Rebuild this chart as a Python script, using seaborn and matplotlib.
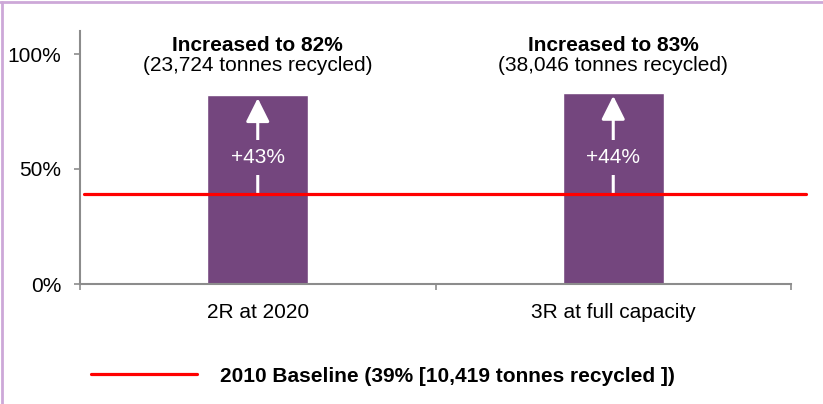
import matplotlib
matplotlib.use("Agg")
import matplotlib.pyplot as plt
from matplotlib.lines import Line2D
import seaborn as sns
import pandas as pd

categories = ["2R at 2020", "3R at full capacity"]
values = [82, 83]
increases = ["+43%", "+44%"]
titles = ["Increased to 82%", "Increased to 83%"]
subtitles = ["(23,724 tonnes recycled)", "(38,046 tonnes recycled)"]
baseline = 39
baseline_label = "2010 Baseline (39% [10,419 tonnes recycled ])"
yticks = [0, 50, 100]
ytick_labels = ["0%", "50%", "100%"]

BAR = "#74467E"
RED = "#FF0000"
GRAY = "#8C8C8C"
FS = 15

sns.set_style("white")
plt.rcParams["font.family"] = ["Liberation Sans", "DejaVu Sans"]
plt.rcParams["text.color"] = "black"
plt.rcParams["xtick.labelcolor"] = "black"
plt.rcParams["ytick.labelcolor"] = "black"

fig = plt.figure(figsize=(8.23, 4.04), dpi=100)
ax = fig.add_axes([80 / 823, 1 - 284 / 404, 711 / 823, (284 - 31) / 404])

df = pd.DataFrame({"cat": categories, "val": values})
sns.barplot(data=df, x="cat", y="val", color=BAR, saturation=1, width=0.283, ax=ax)

ax.set_xlim(-0.5, 1.5)
ax.set_ylim(0, 110)
ax.set_xlabel("")
ax.set_ylabel("")

# baseline
ax.axhline(baseline, xmin=0.0056, xmax=1.021, color=RED, lw=2.3, clip_on=False,
           label=baseline_label, zorder=3)

# arrows and labels
for i, (v, inc, t, s) in enumerate(zip(values, increases, titles, subtitles)):
    ax.annotate("", xy=(i, v - 1.2), xytext=(i, baseline),
                arrowprops=dict(arrowstyle="-|>,head_length=0.8,head_width=0.4",
                                color="white", lw=2.2, mutation_scale=18,
                                shrinkA=0, shrinkB=0), zorder=2.5)
    ax.text(i, 55.0, inc, ha="center", va="center", color="white", fontsize=FS,
            bbox=dict(facecolor=BAR, edgecolor="none", pad=6), zorder=2.6)
    ax.text(i, 103.6, t, ha="center", va="center", fontsize=FS, fontweight="bold",
            color="black")
    ax.text(i, 95.2, s, ha="center", va="center", fontsize=FS, color="black")

# spines / ticks
for side in ["top", "right"]:
    ax.spines[side].set_visible(False)
for side in ["left", "bottom"]:
    ax.spines[side].set_color(GRAY)
    ax.spines[side].set_linewidth(1.5)

ax.set_yticks(yticks)
ax.set_yticklabels(ytick_labels, fontsize=FS)
ax.tick_params(axis="y", direction="out", length=4.3, width=1.2, color=GRAY, pad=9,
               left=True, labelcolor="black")
ax.tick_params(axis="x", which="major", length=0, pad=13.5, labelsize=FS, bottom=True,
               labelcolor="black")
ax.set_xticks([-0.5, 0.5, 1.5], minor=True)
ax.tick_params(axis="x", which="minor", direction="out", length=4.3, width=1.2,
               color=GRAY, bottom=True)

leg = ax.legend(loc="center left", bbox_to_anchor=(91 / 823, 1 - 376 / 404),
                bbox_transform=fig.transFigure, frameon=False, borderpad=0,
                borderaxespad=0, handlelength=5.1, handletextpad=1.1,
                prop={"weight": "bold", "size": FS})
for txt in leg.get_texts():
    txt.set_color("black")

# frame border
BORDER = "#CDA8D8"
fig.add_artist(Line2D([0, 1], [1 - 2 / 404, 1 - 2 / 404], transform=fig.transFigure,
                      color=BORDER, lw=2))
fig.add_artist(Line2D([1.5 / 823, 1.5 / 823], [0, 1 - 2 / 404], transform=fig.transFigure,
                      color=BORDER, lw=2))

fig.savefig("out.png", dpi=100)
